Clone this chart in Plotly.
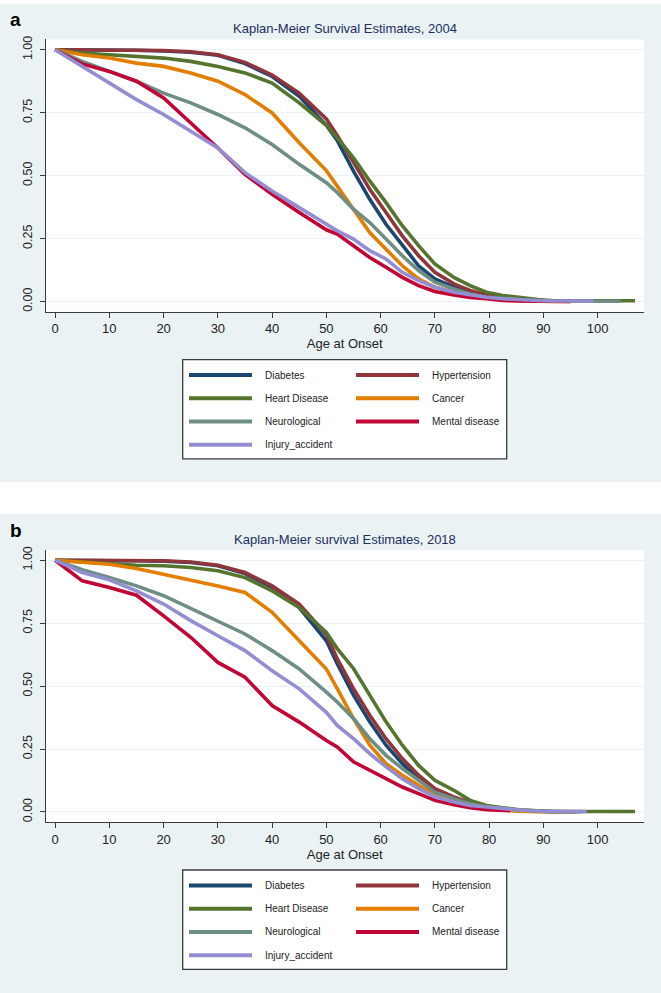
import plotly.graph_objects as go

ages = [0, 5, 10, 15, 20, 25, 30, 35, 40, 45, 50, 52, 55, 58, 61, 64, 67, 70,
        73.5, 76.5, 79.5, 82.5, 85.5, 89, 92]

names = ["Diabetes", "Hypertension", "Heart Disease", "Cancer",
         "Neurological", "Mental disease", "Injury_accident"]
colors = ["#1a476f", "#90353b", "#55752f", "#e37e00",
          "#6e8e84", "#c10534", "#938dd2"]

# 2004
diabetes_2004 = [1, 1, 0.999, 0.998, 0.995, 0.99, 0.978, 0.945, 0.894, 0.815, 0.70, 0.64, 0.518,
                 0.406, 0.307, 0.222, 0.142, 0.09, 0.057, 0.034, 0.021, 0.011, 0.004, 0.002, 0.001]
hypertension_2004 = [1, 1, 1, 0.999, 0.997, 0.992, 0.98, 0.95, 0.90, 0.828, 0.725, 0.66, 0.551,
                     0.446, 0.354, 0.261, 0.182, 0.116, 0.07, 0.044, 0.026, 0.016, 0.008, 0.004, 0.002]
heart_2004 = [1, 0.987, 0.98, 0.974, 0.967, 0.954, 0.934, 0.908, 0.868, 0.789, 0.70, 0.65, 0.571,
              0.479, 0.393, 0.301, 0.222, 0.149, 0.096, 0.063, 0.037, 0.024, 0.015, 0.008, 0.003]
cancer_2004 = [1, 0.98, 0.967, 0.947, 0.934, 0.908, 0.875, 0.822, 0.749, 0.631, 0.52, 0.459, 0.367,
               0.274, 0.208, 0.142, 0.09, 0.057, 0.037, 0.024, 0.013, 0.007, 0.003, 0.001, 0]
neuro_2004 = [1, 0.954, 0.914, 0.875, 0.828, 0.789, 0.743, 0.69, 0.624, 0.545, 0.472, 0.433, 0.367,
              0.314, 0.248, 0.182, 0.123, 0.077, 0.05, 0.03, 0.017, 0.011, 0.007, 0.003, 0.001]
mental_2004 = [1, 0.944, 0.914, 0.875, 0.809, 0.71, 0.61, 0.505, 0.426, 0.354, 0.285, 0.268, 0.222,
               0.175, 0.136, 0.096, 0.063, 0.04, 0.026, 0.016, 0.011, 0.004, 0.002, 0.001, 0]
injury_2004 = [1, 0.934, 0.868, 0.802, 0.743, 0.677, 0.61, 0.512, 0.439, 0.373, 0.31, 0.281, 0.248,
               0.202, 0.169, 0.116, 0.083, 0.057, 0.037, 0.026, 0.017, 0.011, 0.007, 0.004, 0.002]
last_age_2004 = [96, 97, 106.9, 95, 104.2, 95, 99.3]

# 2018
diabetes_2018 = [1, 1, 0.999, 0.998, 0.996, 0.991, 0.978, 0.947, 0.892, 0.812, 0.68, 0.589, 0.464,
                 0.358, 0.265, 0.192, 0.132, 0.086, 0.053, 0.033, 0.02, 0.01, 0.005, 0.002, 0.001]
hypertension_2018 = [1, 1, 1, 0.999, 0.998, 0.993, 0.98, 0.951, 0.898, 0.826, 0.705, 0.609, 0.49,
                     0.384, 0.291, 0.212, 0.146, 0.093, 0.06, 0.037, 0.024, 0.015, 0.007, 0.003, 0.001]
heart_2018 = [1, 0.993, 0.988, 0.98, 0.978, 0.971, 0.958, 0.931, 0.878, 0.812, 0.713, 0.649, 0.57,
              0.464, 0.358, 0.265, 0.185, 0.126, 0.086, 0.046, 0.026, 0.017, 0.009, 0.005, 0.002]
cancer_2018 = [1, 0.991, 0.984, 0.967, 0.945, 0.921, 0.898, 0.872, 0.793, 0.68, 0.568, 0.49, 0.371,
               0.265, 0.192, 0.146, 0.106, 0.066, 0.04, 0.024, 0.013, 0.007, 0.003, 0.001, 0]
neuro_2018 = [1, 0.962, 0.931, 0.898, 0.859, 0.808, 0.76, 0.707, 0.641, 0.568, 0.476, 0.437, 0.371,
              0.291, 0.225, 0.172, 0.126, 0.079, 0.053, 0.033, 0.02, 0.013, 0.008, 0.004, 0.001]
mental_2018 = [1, 0.918, 0.892, 0.861, 0.779, 0.694, 0.594, 0.535, 0.423, 0.357, 0.284, 0.258, 0.199,
               0.166, 0.132, 0.099, 0.073, 0.046, 0.029, 0.017, 0.009, 0.005]
injury_2018 = [1, 0.951, 0.922, 0.878, 0.826, 0.76, 0.70, 0.641, 0.561, 0.489, 0.396, 0.344, 0.291,
               0.232, 0.179, 0.132, 0.093, 0.06, 0.04, 0.026, 0.02, 0.013, 0.008, 0.004, 0.002]
last_age_2018 = [95, 96, 106.9, 96, 97, 83.9, 98]

x_ticks = list(range(0, 101, 10))
y_ticks = [0, 0.25, 0.5, 0.75, 1]

panels = [
    dict(label="a", title="Kaplan-Meier Survival Estimates, 2004", offset=0,
         series=[diabetes_2004, hypertension_2004, heart_2004, cancer_2004,
                 neuro_2004, mental_2004, injury_2004], ends=last_age_2004),
    dict(label="b", title="Kaplan-Meier survival Estimates, 2018", offset=512.5,
         series=[diabetes_2018, hypertension_2018, heart_2018, cancer_2018,
                 neuro_2018, mental_2018, injury_2018], ends=last_age_2018),
]

W, H = 661, 993
FONT = "Liberation Sans, Arial, Helvetica, sans-serif"
BG = "#eaf2f3"
AXIS = "#3a3a3a"
PLOT_L, PLOT_R = 45.5, 644
PLOT_T, PLOT_B = 35.6, 309.1


def px(x):
    return x / W


def py(y):
    return 1 - y / H


fig = go.Figure()
shapes = []
annotations = []

for k, p in enumerate(panels):
    off = p["offset"]
    xa = "x" if k == 0 else "x2"
    ya = "y" if k == 0 else "y2"

    for name, color, s, end in zip(names, colors, p["series"], p["ends"]):
        fig.add_trace(go.Scatter(
            x=ages[:len(s)] + [end],
            y=s + [s[-1]],
            mode="lines",
            name=name,
            line=dict(color=color, width=3.6),
            xaxis=xa, yaxis=ya,
            showlegend=False,
        ))

    axis_x = dict(
        domain=[px(PLOT_L), px(PLOT_R)], range=[-1.77, 108.55], anchor=ya,
        tickvals=x_ticks, ticks="outside", ticklen=5, tickcolor=AXIS,
        showline=True, linecolor=AXIS, linewidth=1, showgrid=False, zeroline=False,
        tickfont=dict(size=13, color="#222"),
        title=dict(text="Age at Onset", font=dict(size=13, color="#222"), standoff=3),
    )
    axis_y = dict(
        domain=[py(PLOT_B + off), py(PLOT_T + off)], range=[-0.041, 1.041], anchor=xa,
        tickvals=y_ticks, tickformat=".2f", tickangle=-90, ticks="outside", ticklen=5,
        tickcolor=AXIS, showline=True, linecolor=AXIS, linewidth=1,
        showgrid=True, gridcolor=BG, gridwidth=1, zeroline=False,
        tickfont=dict(size=12.5, color="#222"), ticklabelstandoff=3,
    )
    if k == 0:
        fig.update_layout(xaxis=axis_x, yaxis=axis_y)
    else:
        fig.update_layout(xaxis2=axis_x, yaxis2=axis_y)

    # panel background and white plot region
    top = 0 if k == 0 else 512
    bottom = 480 if k == 0 else H
    shapes.append(dict(type="rect", xref="paper", yref="paper", layer="below",
                       x0=0, x1=1, y0=py(bottom), y1=py(top),
                       fillcolor=BG, line=dict(width=0)))
    shapes.append(dict(type="rect", xref=xa + " domain", yref=ya + " domain", layer="below",
                       x0=0, x1=1, y0=0, y1=1, fillcolor="white", line=dict(width=0)))

    # panel letter and title
    annotations.append(dict(text="<b>" + p["label"] + "</b>", xref="paper", yref="paper",
                            x=px(8), y=py(16 + off), xanchor="left", yanchor="middle",
                            showarrow=False, font=dict(size=19, color="black", family=FONT)))
    annotations.append(dict(text=p["title"], xref="paper", yref="paper",
                            x=px((PLOT_L + PLOT_R) / 2), y=py(25 + off),
                            xanchor="center", yanchor="middle", showarrow=False,
                            font=dict(size=13, color="#1c2f5e", family=FONT)))

    # legend box (two columns, row-major like the original)
    box_l, box_r, box_t, box_b = 182.7, 506.7, 357 + off, 456.7 + off
    shapes.append(dict(type="rect", xref="paper", yref="paper",
                       x0=px(box_l), x1=px(box_r), y0=py(box_b), y1=py(box_t),
                       fillcolor="white", line=dict(color=AXIS, width=1.3)))
    for i, (name, color) in enumerate(zip(names, colors)):
        col, row = i % 2, i // 2
        ly = box_t + 15.6 + 23.3 * row
        lx = 189 + 167 * col
        shapes.append(dict(type="line", xref="paper", yref="paper",
                           x0=px(lx), x1=px(lx + 63), y0=py(ly), y1=py(ly),
                           line=dict(color=color, width=4)))
        annotations.append(dict(text=name, xref="paper", yref="paper",
                                x=px(lx + 73.5), y=py(ly), xanchor="left", yanchor="middle",
                                showarrow=False, font=dict(size=10, color="#222", family=FONT)))

fig.update_layout(
    width=W, height=H,
    margin=dict(l=0, r=0, t=0, b=0),
    paper_bgcolor="white",
    plot_bgcolor="white",
    font=dict(family=FONT, color="#222"),
    showlegend=False,
    shapes=shapes,
    annotations=annotations,
)

# the page body has a default 8px margin; drop it so the figure fills the window
fig.write_html("out.html", config={"displayModeBar": False},
               post_script="document.body.style.margin='0px';")
